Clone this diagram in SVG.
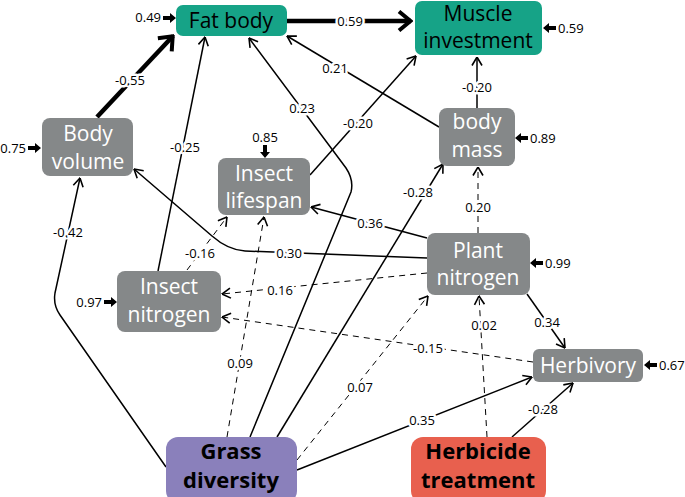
<svg xmlns="http://www.w3.org/2000/svg" width="685" height="497" viewBox="0 0 685 497">
<style>
.n{font-family:"Open Sans","Liberation Sans",sans-serif;font-size:21px;text-anchor:middle}
.w{fill:#fff}
.k{fill:#000}
.b{font-weight:bold;font-size:22px}
.e{fill:none;stroke:#000;stroke-width:1.5}
.d{stroke-width:1;stroke-dasharray:6 5}
.t{fill:none;stroke:#000;stroke-width:4.5}
.l{font-family:"Open Sans","Liberation Sans",sans-serif;font-size:13px;text-anchor:middle;fill:#000;stroke:#fff;stroke-width:5;paint-order:stroke;stroke-linejoin:round}
.r{font-family:"Open Sans","Liberation Sans",sans-serif;font-size:13px;fill:#000}
.gray{fill:#858889}
.teal{fill:#16a387}
</style>
<defs>
<marker id="a" viewBox="0 0 10 12" refX="9.5" refY="6" markerWidth="10" markerHeight="12" markerUnits="userSpaceOnUse" orient="auto"><path d="M1,1 L9.5,6 L1,11" fill="none" stroke="#000" stroke-width="1.6"/></marker>
<marker id="A" viewBox="0 0 16 22" refX="14" refY="11" markerWidth="16" markerHeight="22" markerUnits="userSpaceOnUse" orient="auto"><path d="M2,1.5 L13.5,11 L2,20.5" fill="none" stroke="#000" stroke-width="4"/></marker>
<path id="ra" d="M0,-2 H7 V-5 L13,0 L7,5 V2 H0 Z" fill="#000"/>
</defs>
<g id="connectors">
<path class="t" d="M97,117 L173,36" marker-end="url(#A)"/>
<path class="t" d="M287,21 L411,21" marker-end="url(#A)"/>
<path class="e" d="M158,271 L205,37" marker-end="url(#a)"/>
<path class="e" d="M250,437 L351,192 Q354,180 346,168 L249,38" marker-end="url(#a)"/>
<path class="e" d="M439,127 L287,36" marker-end="url(#a)"/>
<path class="e" d="M310,175 L416,56" marker-end="url(#a)"/>
<path class="e" d="M477,108 L477,57" marker-end="url(#a)"/>
<path class="e" d="M277,437 L443,164" marker-end="url(#a)"/>
<path class="e d" d="M478,233 L478,167" marker-end="url(#a)"/>
<path class="e" d="M427,238 L311,207" marker-end="url(#a)"/>
<path class="e" d="M427,258 L245,251 Q228,250 212,236 L134,169" marker-end="url(#a)"/>
<path class="e d" d="M187,270 L227,217" marker-end="url(#a)"/>
<path class="e d" d="M427,273 L222,294" marker-end="url(#a)"/>
<path class="e d" d="M533,362 L222,317" marker-end="url(#a)"/>
<path class="e" d="M527,294 L565,348" marker-end="url(#a)"/>
<path class="e" d="M297,470 L532,377" marker-end="url(#a)"/>
<path class="e" d="M512,437 L573,383" marker-end="url(#a)"/>
<path class="e d" d="M487,437 L479,296" marker-end="url(#a)"/>
<path class="e d" d="M227,437 L264,217" marker-end="url(#a)"/>
<path class="e d" d="M297,460 L428,296" marker-end="url(#a)"/>
<path class="e" d="M166,467 L60,315 Q53,305 55,293 L80,178" marker-end="url(#a)"/>
<text class="l" x="130" y="85">-0.55</text>
<text class="l" x="350" y="26">0.59</text>
<text class="l" x="185" y="152">-0.25</text>
<text class="l" x="302" y="113">0.23</text>
<text class="l" x="335" y="73">0.21</text>
<text class="l" x="358" y="128">-0.20</text>
<text class="l" x="477" y="92">-0.20</text>
<text class="l" x="418" y="197">-0.28</text>
<text class="l" x="478" y="212">0.20</text>
<text class="l" x="370" y="228">0.36</text>
<text class="l" x="289" y="258">0.30</text>
<text class="l" x="200" y="258">-0.16</text>
<text class="l" x="280" y="295">0.16</text>
<text class="l" x="428" y="353">-0.15</text>
<text class="l" x="547" y="327">0.34</text>
<text class="l" x="422" y="425">0.35</text>
<text class="l" x="543" y="414">-0.28</text>
<text class="l" x="484" y="330">0.02</text>
<text class="l" x="240" y="368">0.09</text>
<text class="l" x="360" y="392">0.07</text>
<text class="l" x="68" y="237">-0.42</text>
</g>
<g id="residuals">
<use href="#ra" transform="translate(163,18)"/><text class="r" x="161" y="22" text-anchor="end">0.49</text>
<use href="#ra" transform="translate(28,148)"/><text class="r" x="26" y="153" text-anchor="end">0.75</text>
<use href="#ra" transform="translate(265,145) rotate(90)"/><text class="r" x="265" y="142" text-anchor="middle">0.85</text>
<use href="#ra" transform="translate(556,28) rotate(180)"/><text class="r" x="558" y="33">0.59</text>
<use href="#ra" transform="translate(528,138) rotate(180)"/><text class="r" x="530" y="143">0.89</text>
<use href="#ra" transform="translate(104,302)"/><text class="r" x="102" y="307" text-anchor="end">0.97</text>
<use href="#ra" transform="translate(543,263) rotate(180)"/><text class="r" x="545" y="268">0.99</text>
<use href="#ra" transform="translate(657,365) rotate(180)"/><text class="r" x="659" y="370">0.67</text>
</g>
<g id="fat-body"><rect class="teal" x="176" y="5" width="111" height="31" rx="7"/><text class="n k" x="231" y="28">Fat body</text></g>
<g id="muscle-investment"><rect class="teal" x="415" y="1" width="127" height="54" rx="7"/><text class="n k" x="478" y="21">Muscle</text><text class="n k" x="478" y="48">investment</text></g>
<g id="body-volume"><rect class="gray" x="42" y="118" width="91" height="58" rx="8"/><text class="n w" x="88" y="141">Body</text><text class="n w" x="88" y="169">volume</text></g>
<g id="insect-lifespan"><rect class="gray" x="218" y="158" width="92" height="57" rx="8"/><text class="n w" x="264" y="181">Insect</text><text class="n w" x="264" y="208">lifespan</text></g>
<g id="body-mass"><rect class="gray" x="439" y="108" width="76" height="58" rx="8"/><text class="n w" x="477" y="129">body</text><text class="n w" x="477" y="157">mass</text></g>
<g id="plant-nitrogen"><rect class="gray" x="427" y="233" width="103" height="62" rx="8"/><text class="n w" x="478" y="258">Plant</text><text class="n w" x="478" y="285">nitrogen</text></g>
<g id="insect-nitrogen"><rect class="gray" x="117" y="271" width="104" height="61" rx="8"/><text class="n w" x="169" y="294">Insect</text><text class="n w" x="169" y="322">nitrogen</text></g>
<g id="herbivory"><rect class="gray" x="533" y="349" width="110" height="33" rx="6"/><text class="n w" x="588" y="373">Herbivory</text></g>
<g id="grass-diversity"><rect fill="#8a80bb" x="166" y="437" width="131" height="66" rx="12"/><text class="n k b" x="231" y="459">Grass</text><text class="n k b" x="231" y="488">diversity</text></g>
<g id="herbicide-treatment"><rect fill="#e8604e" x="411" y="437" width="135" height="66" rx="12"/><text class="n k b" x="478" y="459">Herbicide</text><text class="n k b" x="478" y="488">treatment</text></g>
</svg>
